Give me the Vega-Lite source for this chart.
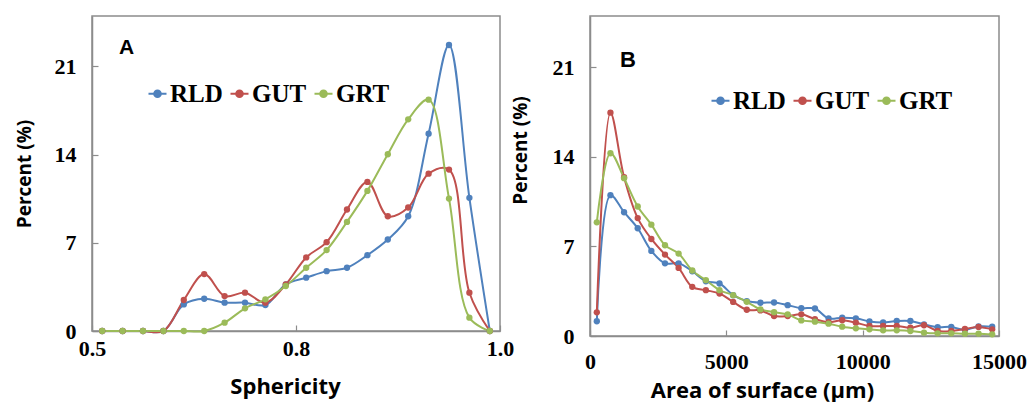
{
  "$schema": "https://vega.github.io/schema/vega-lite/v6.json",
  "background": "white",
  "padding": {"left": 14, "top": 15, "right": 0, "bottom": 0},
  "bounds": "flush",
  "spacing": 90,
  "config": {
    "view": {"stroke": "#8c8c8c", "strokeWidth": 1.5},
    "axis": {
      "grid": false,
      "domainColor": "#8c8c8c",
      "domainWidth": 1.5,
      "tickColor": "#8c8c8c",
      "tickWidth": 1.2,
      "tickSize": -6,
      "labelFlush": false,
      "labelFont": "Liberation Serif",
      "labelFontWeight": "bold",
      "labelFontSize": 22,
      "labelColor": "black",
      "titleFont": "Open Sans",
      "titleFontWeight": "bold",
      "titleFontSize": 22,
      "titleColor": "black"
    },
    "axisY": {"titleFontSize": 19},
    "legend": {
      "title": null,
      "orient": "none",
      "direction": "horizontal",
      "symbolType": "M-1,0L1,0M-0.37,0A0.37,0.37 0 1,0 0.37,0A0.37,0.37 0 1,0 -0.37,0Z",
      "symbolSize": 324,
      "symbolStrokeWidth": 2,
      "labelFont": "Liberation Serif",
      "labelFontSize": 25,
      "labelFontWeight": "bold",
      "labelColor": "black",
      "labelOffset": 0,
      "columnPadding": 3
    },
    "title": {"font": "Liberation Sans", "fontSize": 20, "fontWeight": "bold", "color": "black", "anchor": "start", "frame": "group"}
  },
  "resolve": {"scale": {"color": "independent"}, "legend": {"color": "independent"}},
  "datasets": {
    "sph": [
      {"s": 0.5125, "series": "RLD", "pct": 0}, {"s": 0.5375, "series": "RLD", "pct": 0}, {"s": 0.5625, "series": "RLD", "pct": 0}, {"s": 0.5875, "series": "RLD", "pct": 0},
      {"s": 0.6125, "series": "RLD", "pct": 2.11}, {"s": 0.6375, "series": "RLD", "pct": 2.56}, {"s": 0.6625, "series": "RLD", "pct": 2.25}, {"s": 0.6875, "series": "RLD", "pct": 2.25},
      {"s": 0.7125, "series": "RLD", "pct": 2.06}, {"s": 0.7375, "series": "RLD", "pct": 3.7}, {"s": 0.7625, "series": "RLD", "pct": 4.23}, {"s": 0.7875, "series": "RLD", "pct": 4.75},
      {"s": 0.8125, "series": "RLD", "pct": 5.02}, {"s": 0.8375, "series": "RLD", "pct": 6.02}, {"s": 0.8625, "series": "RLD", "pct": 7.26}, {"s": 0.8875, "series": "RLD", "pct": 9.11},
      {"s": 0.9125, "series": "RLD", "pct": 15.66}, {"s": 0.9375, "series": "RLD", "pct": 22.7}, {"s": 0.9625, "series": "RLD", "pct": 10.57}, {"s": 0.9875, "series": "RLD", "pct": 0},
      {"s": 0.5125, "series": "GUT", "pct": 0}, {"s": 0.5375, "series": "GUT", "pct": 0}, {"s": 0.5625, "series": "GUT", "pct": 0}, {"s": 0.5875, "series": "GUT", "pct": 0},
      {"s": 0.6125, "series": "GUT", "pct": 2.46}, {"s": 0.6375, "series": "GUT", "pct": 4.52}, {"s": 0.6625, "series": "GUT", "pct": 2.77}, {"s": 0.6875, "series": "GUT", "pct": 3.04},
      {"s": 0.7125, "series": "GUT", "pct": 2.25}, {"s": 0.7375, "series": "GUT", "pct": 3.7}, {"s": 0.7625, "series": "GUT", "pct": 5.84}, {"s": 0.7875, "series": "GUT", "pct": 7.05},
      {"s": 0.8125, "series": "GUT", "pct": 9.64}, {"s": 0.8375, "series": "GUT", "pct": 11.83}, {"s": 0.8625, "series": "GUT", "pct": 9.11}, {"s": 0.8875, "series": "GUT", "pct": 9.8},
      {"s": 0.9125, "series": "GUT", "pct": 12.49}, {"s": 0.9375, "series": "GUT", "pct": 12.81}, {"s": 0.9625, "series": "GUT", "pct": 3.04}, {"s": 0.9875, "series": "GUT", "pct": 0},
      {"s": 0.5125, "series": "GRT", "pct": 0}, {"s": 0.5375, "series": "GRT", "pct": 0}, {"s": 0.5625, "series": "GRT", "pct": 0}, {"s": 0.5875, "series": "GRT", "pct": 0},
      {"s": 0.6125, "series": "GRT", "pct": 0}, {"s": 0.6375, "series": "GRT", "pct": 0}, {"s": 0.6625, "series": "GRT", "pct": 0.66}, {"s": 0.6875, "series": "GRT", "pct": 1.8},
      {"s": 0.7125, "series": "GRT", "pct": 2.51}, {"s": 0.7375, "series": "GRT", "pct": 3.57}, {"s": 0.7625, "series": "GRT", "pct": 5.02}, {"s": 0.7875, "series": "GRT", "pct": 6.42},
      {"s": 0.8125, "series": "GRT", "pct": 8.66}, {"s": 0.8375, "series": "GRT", "pct": 11.12}, {"s": 0.8625, "series": "GRT", "pct": 14.03}, {"s": 0.8875, "series": "GRT", "pct": 16.8},
      {"s": 0.9125, "series": "GRT", "pct": 18.36}, {"s": 0.9375, "series": "GRT", "pct": 10.51}, {"s": 0.9625, "series": "GRT", "pct": 1.06}, {"s": 0.9875, "series": "GRT", "pct": 0}
    ],
    "area": [
      {"a": 250, "series": "RLD", "pct": 1.15}, {"a": 750, "series": "RLD", "pct": 11.0}, {"a": 1250, "series": "RLD", "pct": 9.67}, {"a": 1750, "series": "RLD", "pct": 8.42}, {"a": 2250, "series": "RLD", "pct": 6.65},
      {"a": 2750, "series": "RLD", "pct": 5.68}, {"a": 3250, "series": "RLD", "pct": 5.68}, {"a": 3750, "series": "RLD", "pct": 5.06}, {"a": 4250, "series": "RLD", "pct": 4.28}, {"a": 4750, "series": "RLD", "pct": 4.1},
      {"a": 5250, "series": "RLD", "pct": 3.19}, {"a": 5750, "series": "RLD", "pct": 2.73}, {"a": 6250, "series": "RLD", "pct": 2.6}, {"a": 6750, "series": "RLD", "pct": 2.62}, {"a": 7250, "series": "RLD", "pct": 2.41},
      {"a": 7750, "series": "RLD", "pct": 2.17}, {"a": 8250, "series": "RLD", "pct": 2.15}, {"a": 8750, "series": "RLD", "pct": 1.37}, {"a": 9250, "series": "RLD", "pct": 1.43}, {"a": 9750, "series": "RLD", "pct": 1.38},
      {"a": 10250, "series": "RLD", "pct": 1.14}, {"a": 10750, "series": "RLD", "pct": 1.06}, {"a": 11250, "series": "RLD", "pct": 1.17}, {"a": 11750, "series": "RLD", "pct": 1.17}, {"a": 12250, "series": "RLD", "pct": 0.91},
      {"a": 12750, "series": "RLD", "pct": 0.69}, {"a": 13250, "series": "RLD", "pct": 0.71}, {"a": 13750, "series": "RLD", "pct": 0.48}, {"a": 14250, "series": "RLD", "pct": 0.75}, {"a": 14750, "series": "RLD", "pct": 0.73},
      {"a": 250, "series": "GUT", "pct": 1.85}, {"a": 750, "series": "GUT", "pct": 17.45}, {"a": 1250, "series": "GUT", "pct": 12.4}, {"a": 1750, "series": "GUT", "pct": 9.21}, {"a": 2250, "series": "GUT", "pct": 7.58},
      {"a": 2750, "series": "GUT", "pct": 6.36}, {"a": 3250, "series": "GUT", "pct": 5.32}, {"a": 3750, "series": "GUT", "pct": 3.84}, {"a": 4250, "series": "GUT", "pct": 3.58}, {"a": 4750, "series": "GUT", "pct": 3.32},
      {"a": 5250, "series": "GUT", "pct": 2.66}, {"a": 5750, "series": "GUT", "pct": 2.05}, {"a": 6250, "series": "GUT", "pct": 2.0}, {"a": 6750, "series": "GUT", "pct": 1.56}, {"a": 7250, "series": "GUT", "pct": 1.56},
      {"a": 7750, "series": "GUT", "pct": 1.69}, {"a": 8250, "series": "GUT", "pct": 1.32}, {"a": 8750, "series": "GUT", "pct": 1.08}, {"a": 9250, "series": "GUT", "pct": 1.23}, {"a": 9750, "series": "GUT", "pct": 1.04},
      {"a": 10250, "series": "GUT", "pct": 0.78}, {"a": 10750, "series": "GUT", "pct": 0.78}, {"a": 11250, "series": "GUT", "pct": 0.78}, {"a": 11750, "series": "GUT", "pct": 0.65}, {"a": 12250, "series": "GUT", "pct": 0.84},
      {"a": 12750, "series": "GUT", "pct": 0.39}, {"a": 13250, "series": "GUT", "pct": 0.39}, {"a": 13750, "series": "GUT", "pct": 0.55}, {"a": 14250, "series": "GUT", "pct": 0.71}, {"a": 14750, "series": "GUT", "pct": 0.52},
      {"a": 250, "series": "GRT", "pct": 8.88}, {"a": 750, "series": "GRT", "pct": 14.28}, {"a": 1250, "series": "GRT", "pct": 12.33}, {"a": 1750, "series": "GRT", "pct": 10.12}, {"a": 2250, "series": "GRT", "pct": 8.7},
      {"a": 2750, "series": "GRT", "pct": 7.09}, {"a": 3250, "series": "GRT", "pct": 6.44}, {"a": 3750, "series": "GRT", "pct": 5.12}, {"a": 4250, "series": "GRT", "pct": 4.36}, {"a": 4750, "series": "GRT", "pct": 3.58},
      {"a": 5250, "series": "GRT", "pct": 3.19}, {"a": 5750, "series": "GRT", "pct": 2.67}, {"a": 6250, "series": "GRT", "pct": 2.08}, {"a": 6750, "series": "GRT", "pct": 1.86}, {"a": 7250, "series": "GRT", "pct": 1.69},
      {"a": 7750, "series": "GRT", "pct": 1.22}, {"a": 8250, "series": "GRT", "pct": 1.12}, {"a": 8750, "series": "GRT", "pct": 0.96}, {"a": 9250, "series": "GRT", "pct": 0.73}, {"a": 9750, "series": "GRT", "pct": 0.6},
      {"a": 10250, "series": "GRT", "pct": 0.52}, {"a": 10750, "series": "GRT", "pct": 0.44}, {"a": 11250, "series": "GRT", "pct": 0.44}, {"a": 11750, "series": "GRT", "pct": 0.39}, {"a": 12250, "series": "GRT", "pct": 0.26},
      {"a": 12750, "series": "GRT", "pct": 0.21}, {"a": 13250, "series": "GRT", "pct": 0.21}, {"a": 13750, "series": "GRT", "pct": 0.18}, {"a": 14250, "series": "GRT", "pct": 0.18}, {"a": 14750, "series": "GRT", "pct": 0.13}
    ]
  },
  "hconcat": [
    {
      "width": 408,
      "height": 315,
      "title": {"text": "A", "offset": -42, "dx": 27, "fontSize": 21},
      "data": {"name": "sph"},
      "encoding": {
        "x": {"field": "s", "type": "quantitative", "scale": {"domain": [0.5, 1.0], "nice": false, "zero": false},
              "axis": {"values": [0.5, 0.75, 1.0], "format": ".1f", "title": "Sphericity", "labelPadding": 13, "titlePadding": 17, "titleX": 193}},
        "y": {"field": "pct", "type": "quantitative", "scale": {"domain": [0, 25], "nice": false},
              "axis": {"values": [0, 7, 14, 21], "title": "Percent (%)", "labelPadding": 22, "titlePadding": 20}},
        "color": {"field": "series", "type": "nominal", "sort": ["RLD", "GUT", "GRT"],
                  "scale": {"domain": ["RLD", "GUT", "GRT"], "range": ["#4F81BD", "#C0504D", "#9BBB59"]},
                  "legend": {"legendX": 53, "legendY": 65,
                    "encode": {"symbols": {"update": {
                      "fill": [{"test": "datum.value === 'RLD'", "value": "#4F81BD"}, {"test": "datum.value === 'GUT'", "value": "#C0504D"}, {"value": "#9BBB59"}],
                      "stroke": [{"test": "datum.value === 'RLD'", "value": "#4F81BD"}, {"test": "datum.value === 'GUT'", "value": "#C0504D"}, {"value": "#9BBB59"}],
                      "opacity": {"value": 1}}}}}}
      },
      "layer": [
        {"mark": {"type": "line", "interpolate": "catmull-rom", "strokeWidth": 2}},
        {"mark": {"type": "circle", "size": 40, "opacity": 1}}
      ]
    },
    {
      "width": 409,
      "height": 320,
      "title": {"text": "B", "offset": -56, "dx": 30, "fontSize": 22},
      "data": {"name": "area"},
      "encoding": {
        "x": {"field": "a", "type": "quantitative", "scale": {"domain": [0, 15000], "nice": false},
              "axis": {"values": [0, 5000, 10000, 15000], "format": "d", "title": "Area of surface (μm)", "labelPadding": 21, "titlePadding": 8, "titleX": 172}},
        "y": {"field": "pct", "type": "quantitative", "scale": {"domain": [0, 25], "nice": false},
              "axis": {"values": [0, 7, 14, 21], "title": "Percent (%)", "labelPadding": 22, "titlePadding": 22, "titleY": 134}},
        "color": {"field": "series", "type": "nominal", "sort": ["RLD", "GUT", "GRT"],
                  "scale": {"domain": ["RLD", "GUT", "GRT"], "range": ["#4F81BD", "#C0504D", "#9BBB59"]},
                  "legend": {"legendX": 118, "legendY": 72,
                    "encode": {"symbols": {"update": {
                      "fill": [{"test": "datum.value === 'RLD'", "value": "#4F81BD"}, {"test": "datum.value === 'GUT'", "value": "#C0504D"}, {"value": "#9BBB59"}],
                      "stroke": [{"test": "datum.value === 'RLD'", "value": "#4F81BD"}, {"test": "datum.value === 'GUT'", "value": "#C0504D"}, {"value": "#9BBB59"}],
                      "opacity": {"value": 1}}}}}}
      },
      "layer": [
        {"mark": {"type": "line", "interpolate": "catmull-rom", "strokeWidth": 2}},
        {"mark": {"type": "circle", "size": 40, "opacity": 1}}
      ]
    }
  ]
}
